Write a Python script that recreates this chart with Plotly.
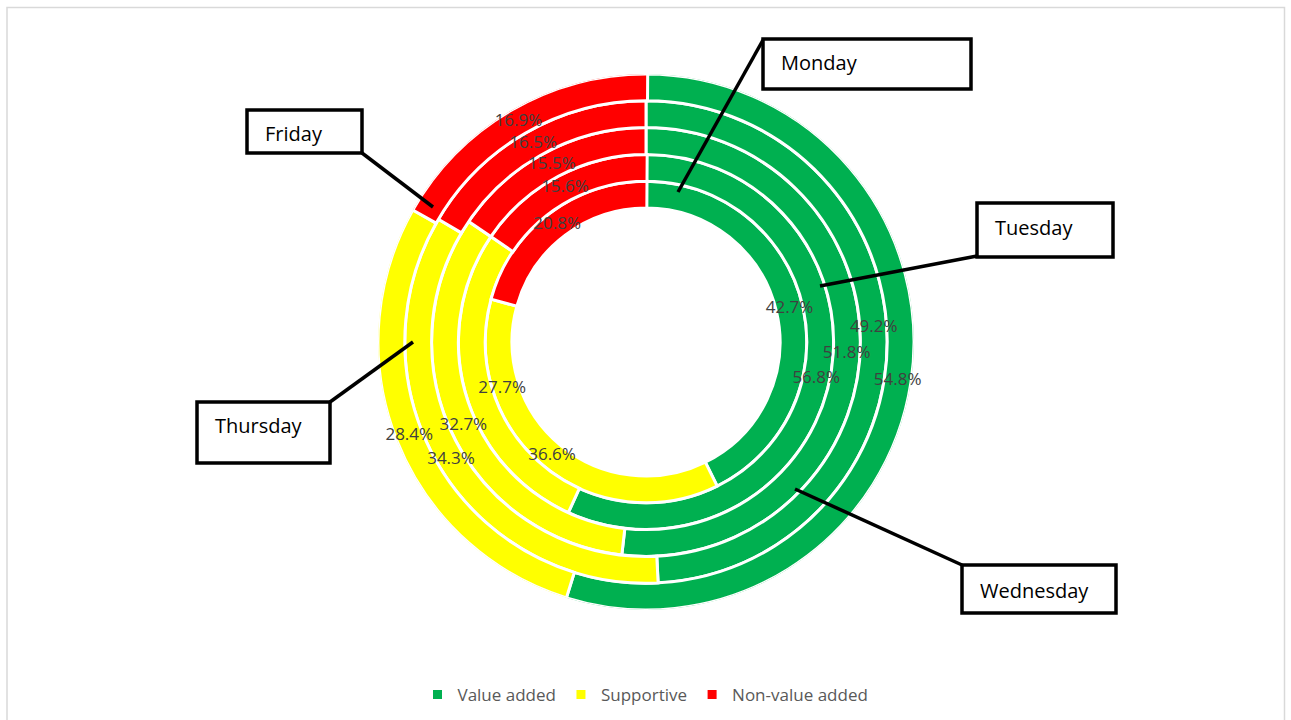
import plotly.graph_objects as go

# Share of time per category, one ring per weekday (Monday innermost)
days = ["Monday", "Tuesday", "Wednesday", "Thursday", "Friday"]
value_added = [42.7, 56.8, 51.8, 49.2, 54.8]
supportive = [36.6, 27.7, 32.7, 34.3, 28.4]
non_value_added = [20.8, 15.6, 15.5, 16.5, 16.9]

series_names = ["Value added", "Supportive", "Non-value added"]
series_colors = ["#00B050", "#FFFF00", "#FF0000"]
series_values = [value_added, supportive, non_value_added]

# Label nudges so neighbouring labels stay readable
label_nudge = {("Value added", "Thursday"): "top center",
               ("Supportive", "Tuesday"): "middle right"}

W, H = 1291, 720
CX, CY, R = 646, 342, 268          # ring centre and outer radius (px)
HOLE = 5.0                          # hole radius in ring units
RING = 1.0                          # thickness of one ring
R_MAX = HOLE + RING * len(days)


def px(x):
    return x / W


def py(y):
    return 1 - y / H


fig = go.Figure()

# Stack the segments of every ring clockwise from 12 o'clock
starts = [0.0] * len(days)
label_r, label_t, label_txt, label_pos = [], [], [], []
for name, color, vals in zip(series_names, series_colors, series_values):
    theta, width, base = [], [], []
    for i, v in enumerate(vals):
        theta.append((starts[i] + v / 2) * 3.6)
        width.append(v * 3.6)
        base.append(HOLE + i * RING)
        label_r.append(HOLE + i * RING + RING / 2)
        label_t.append((starts[i] + v / 2) * 3.6)
        label_txt.append(f"{v:.1f}%")
        label_pos.append(label_nudge.get((name, days[i]), "middle center"))
        starts[i] += v
    fig.add_trace(go.Barpolar(
        name=name,
        r=[RING] * len(vals),
        base=base,
        theta=theta,
        width=width,
        marker=dict(color=color, line=dict(color="white", width=3)),
        hoverinfo="skip",
    ))

# Percentage labels centred in each segment
fig.add_trace(go.Scatterpolar(
    r=label_r,
    theta=label_t,
    mode="text",
    text=label_txt,
    textposition=label_pos,
    textfont=dict(family="Open Sans", size=17, color="#404040"),
    showlegend=False,
    hoverinfo="skip",
))

# Callouts: box (x0, y0, x1, y1), leader line from anchor corner to ring, text position
callouts = [
    ("Monday",    (763, 39, 971, 89),   (763, 40),  (678, 192), (779, 62)),
    ("Tuesday",   (977, 203, 1113, 257), (977, 256), (820, 286), (993, 227)),
    ("Wednesday", (962, 565, 1116, 613), (962, 565), (795, 489), (978, 590)),
    ("Thursday",  (197, 402, 330, 463),  (330, 402), (413, 342), (213, 425)),
    ("Friday",    (247, 110, 362, 153),  (362, 153), (433, 207), (263, 133)),
]

shapes = [
    # light grey chart frame
    dict(type="rect", xref="paper", yref="paper",
         x0=px(7), x1=px(1284.5), y0=py(722), y1=py(7.5),
         line=dict(color="#D9D9D9", width=1.5), fillcolor="rgba(0,0,0,0)",
         layer="below"),
]
annotations = []
for text, (x0, y0, x1, y1), (lx, ly), (tx, ty), (ax, ay) in callouts:
    shapes.append(dict(type="line", xref="paper", yref="paper",
                       x0=px(lx), y0=py(ly), x1=px(tx), y1=py(ty),
                       line=dict(color="black", width=3.5), layer="above"))
    shapes.append(dict(type="rect", xref="paper", yref="paper",
                       x0=px(x0), y0=py(y1), x1=px(x1), y1=py(y0),
                       line=dict(color="black", width=3.5), fillcolor="white",
                       layer="above"))
    annotations.append(dict(xref="paper", yref="paper", x=px(ax), y=py(ay),
                            xanchor="left", yanchor="middle", showarrow=False,
                            text=text,
                            font=dict(family="Open Sans", size=20, color="black")))

fig.update_layout(
    width=W, height=H,
    margin=dict(l=0, r=0, t=0, b=0),
    paper_bgcolor="white",
    plot_bgcolor="white",
    polar=dict(
        domain=dict(x=[px(CX - R), px(CX + R)], y=[py(CY + R), py(CY - R)]),
        bgcolor="white",
        hole=0,
        radialaxis=dict(visible=False, range=[0, R_MAX]),
        angularaxis=dict(visible=False, rotation=90, direction="clockwise"),
        barmode="overlay",
    ),
    showlegend=True,
    legend=dict(
        orientation="h", x=0.5, xanchor="center", y=py(695), yanchor="middle",
        font=dict(family="Open Sans", size=17, color="#595959"),
        itemwidth=30, traceorder="normal",
    ),
    shapes=shapes,
    annotations=annotations,
)

fig.write_html("out.html")
